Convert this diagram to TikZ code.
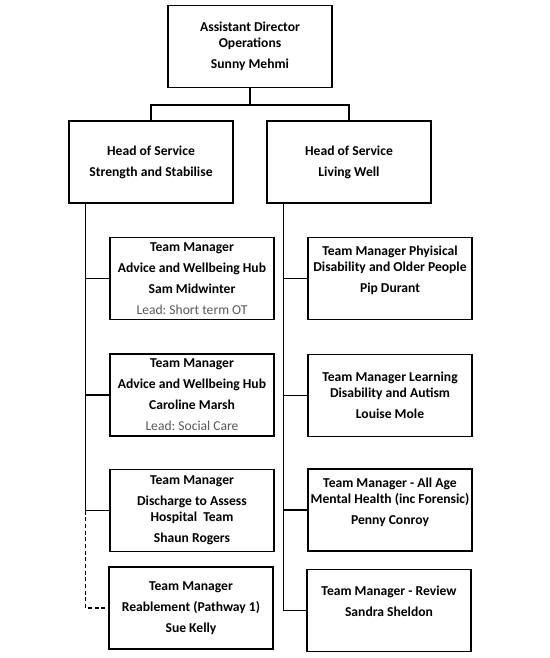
\documentclass[tikz,border=0pt]{standalone}
\usepackage{fontspec}
\setmainfont{Carlito}
\usepackage{tikz}
\frenchspacing
\definecolor{leadgrey}{RGB}{89,89,89}
\tikzset{
  post/.style={draw, line width=1pt, minimum width=123pt, minimum height=61.5pt, inner sep=1pt, align=center, font=\fontsize{10.2}{12}\selectfont\bfseries},
  link/.style={line width=0.9pt},
  dotlink/.style={line width=0.9pt, dash pattern=on 3pt off 2pt}
}

\begin{document}
\begin{tikzpicture}[x=0.75pt,y=0.75pt,yscale=-1,xscale=1]
\useasboundingbox (0,0) rectangle (550,658);

%Shape: Rectangle [director]
\node [post] (ado) at (250,46.5) {Assistant Director\\Operations\\[3.75pt]Sunny Mehmi};
%Shape: Rectangle [heads of service]
\node [post] (hosSS) at (151,162) {Head of Service\\[3.75pt]Strength and Stabilise};
\node [post] (hosLW) at (349,162) {Head of Service\\[3.75pt]Living Well};

%Shape: Rectangle [strength and stabilise teams]
\node [post] (tmSS1) at (192,278.5) {Team Manager\\[3.75pt]Advice and Wellbeing Hub\\[3.75pt]Sam Midwinter\\[3.75pt]{\mdseries\color{leadgrey}Lead: Short term OT}};
\node [post] (tmSS2) at (192,395) {Team Manager\\[3.75pt]Advice and Wellbeing Hub\\[3.75pt]Caroline Marsh\\[3.75pt]{\mdseries\color{leadgrey}Lead: Social Care}};
\node [post] (tmSS3) at (192,510.5) {Team Manager\\[3.75pt]Discharge to Assess\\Hospital\ \ Team\\[3.75pt]Shaun Rogers};
\node [post] (tmSS4) at (191,608) {Team Manager\\[3.75pt]Reablement (Pathway 1)\\[3.75pt]Sue Kelly};

%Shape: Rectangle [living well teams]
\node [post] (tmLW1) at (390,278.5) {Team Manager Phyisical\\Disability and Older People\\[3.75pt]Pip Durant\\[-2.25pt]\strut};
\node [post] (tmLW2) at (390,395.5) {Team Manager Learning\\Disability and Autism\\[3.75pt]Louise Mole};
\node [post] (tmLW3) at (390,510) {Team Manager - All Age\\Mental Health (inc Forensic)\\[3.75pt]Penny Conroy\\[-2.25pt]\strut};
\node [post] (tmLW4) at (389,610.5) {Team Manager - Review\\[3.75pt]Sandra Sheldon\\[-2.25pt]\strut};

%Straight Lines [director to heads]
\coordinate (bus) at (250,105);
\draw [link] (ado.south) -- (bus);
\draw [link] (hosSS.north) |- (bus) -| (hosLW.north);

%Straight Lines [strength and stabilise spine]
\coordinate (spineSS) at ([xshift=12.75pt]hosSS.south west);
\draw [link] (spineSS) |- (tmSS3.west);
\draw [link] (spineSS |- tmSS1.west) -- (tmSS1.west);
\draw [link] (spineSS |- tmSS2.west) -- (tmSS2.west);
\draw [dotlink] (spineSS |- tmSS3.west) |- (tmSS4.west);

%Straight Lines [living well spine]
\coordinate (spineLW) at ([xshift=12.75pt]hosLW.south west);
\draw [link] (spineLW) |- (tmLW4.west);
\draw [link] (spineLW |- tmLW1.west) -- (tmLW1.west);
\draw [link] (spineLW |- tmLW2.west) -- (tmLW2.west);
\draw [link] (spineLW |- tmLW3.west) -- (tmLW3.west);

\end{tikzpicture}
\end{document}
